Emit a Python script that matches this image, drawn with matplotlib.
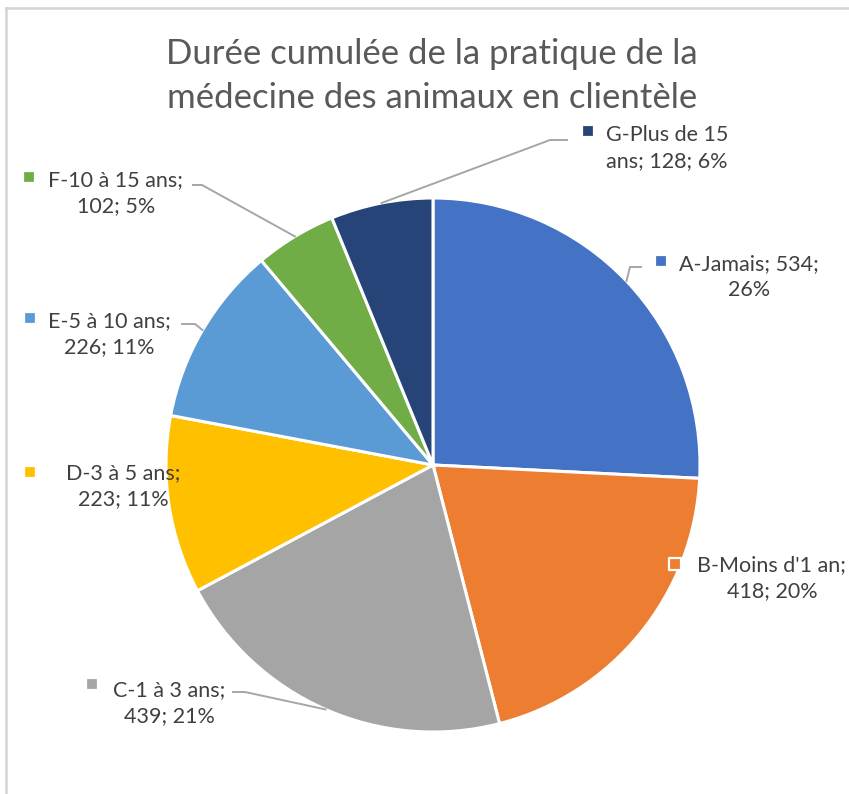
import numpy as np
import matplotlib
matplotlib.use("Agg")
import matplotlib.pyplot as plt
from matplotlib.lines import Line2D

# Durée cumulée de pratique - nombre de répondants par classe
categories = ["A-Jamais", "B-Moins d'1 an", "C-1 à 3 ans", "D-3 à 5 ans",
              "E-5 à 10 ans", "F-10 à 15 ans", "G-Plus de 15 ans"]
counts = [534, 418, 439, 223, 226, 102, 128]
colors = ["#4472C4", "#ED7D31", "#A5A5A5", "#FFC000",
          "#5B9BD5", "#70AD47", "#264478"]

# texte des étiquettes (retour à la ligne comme dans Excel)
label_lines = [
    ("A-Jamais; {n};", "{p}%"),
    ("B-Moins d'1 an;", "{n}; {p}%"),
    ("C-1 à 3 ans;", "{n}; {p}%"),
    ("D-3 à 5 ans;", "{n}; {p}%"),
    ("E-5 à 10 ans;", "{n}; {p}%"),
    ("F-10 à 15 ans;", "{n}; {p}%"),
    ("G-Plus de 15", "ans; {n}; {p}%"),
]

W, H = 849, 794
cx, cy, R = 433, 465, 267

plt.rcParams["font.family"] = ["Lato", "DejaVu Sans"]
txt_color = "#404040"
line_color = "#A6A6A6"


def P(x, y):
    # coordonnées pixel (origine en haut à gauche) -> coordonnées de l'axe
    return x, H - y


fig = plt.figure(figsize=(W / 100, H / 100), dpi=100)
ax = fig.add_axes([0, 0, 1, 1])

ax.pie(counts, colors=colors, startangle=90, counterclock=False,
       center=P(cx, cy), radius=R,
       wedgeprops=dict(edgecolor="white", linewidth=2.2))
ax.set_xlim(0, W)
ax.set_ylim(0, H)
ax.set_aspect("equal")
ax.axis("off")

total = sum(counts)
pcts = [round(100 * c / total) for c in counts]

# position des blocs de texte et des carrés de légende
text_pos = [(749, 277), (772, 578), (169, 703), (123, 486), (109, 334), (116, 193), (667, 148)]
key_pos = [(661, 261), (675, 564), (92, 684), (30, 472), (30, 318), (29, 177), (588, 131)]
# coudes des lignes de rappel (None = pas de ligne)
elbows = [
    [(630, 267), (641, 267)],
    None,
    [(245, 692), (233, 692)],
    None,
    [(195, 324), (182, 324)],
    [(202, 185), (193, 185)],
    [(550, 140), (567, 140)],
]

cum = np.cumsum([0] + counts)
for i, c in enumerate(counts):
    l1, l2 = label_lines[i]
    text = l1.format(n=c, p=pcts[i]) + "\n" + l2.format(n=c, p=pcts[i])
    ax.text(*P(*text_pos[i]), text, ha="center", va="center", multialignment="center",
            fontsize=15.5, color=txt_color, linespacing=1.42, zorder=5)
    ax.scatter(*P(*key_pos[i]), marker="s", s=78, color=colors[i],
               edgecolor="white", linewidth=1.6, zorder=6)
    if elbows[i] is not None:
        mid = np.deg2rad(90 - 360 * (cum[i] + c / 2) / total)
        pts = [(cx + R * np.cos(mid), cy - R * np.sin(mid))] + elbows[i]
        xs = [p[0] for p in pts]
        ys = [H - p[1] for p in pts]
        ax.plot(xs, ys, color=line_color, linewidth=1.4, zorder=4)

ax.text(*P(432, 76), "Durée cumulée de la pratique de la\nmédecine des animaux en clientèle",
        ha="center", va="center", fontsize=25, color="#595959", linespacing=1.48)

# cadre du graphique (haut et gauche visibles)
fig.add_artist(Line2D([6 / W, 1], [1 - 8 / H, 1 - 8 / H], color="#D4D4D4", linewidth=1.8))
fig.add_artist(Line2D([6 / W, 6 / W], [0, 1 - 8 / H], color="#D4D4D4", linewidth=1.8))

fig.savefig("out.png", dpi=100, facecolor="white")
